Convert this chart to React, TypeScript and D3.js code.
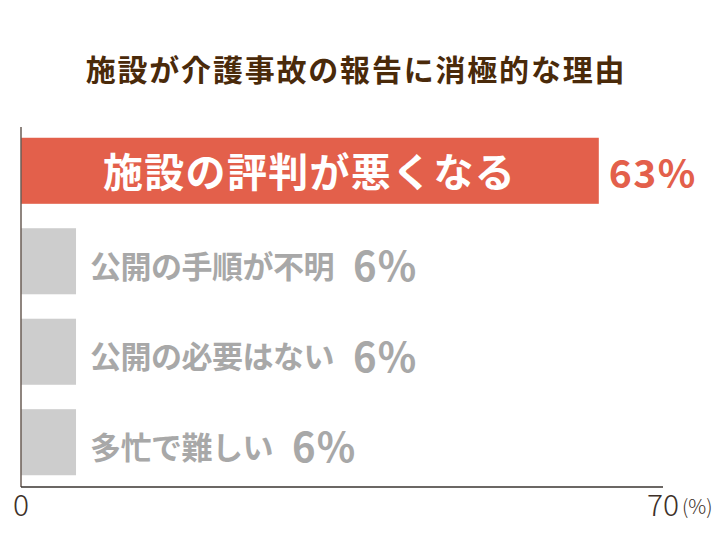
import React from "react";
import * as d3 from "d3";

const categories = ["施設の評判が悪くなる", "公開の手順が不明", "公開の必要はない", "多忙で難しい"];
const values = [63, 6, 6, 6];
const axisTicks = [0, 70];

const width = 726;
const height = 545;
const jp = "'Noto Sans CJK JP', 'Noto Sans', sans-serif";

const App: React.FC = () => {
  const x = d3.scaleLinear().domain([0, 70]).range([21, 663]);
  const y = d3
    .scaleBand<string>()
    .domain(categories)
    .range([126, 487])
    .paddingInner(0.27)
    .paddingOuter(0.13);

  return (
    <svg width={width} height={height} style={{ display: "block", position: "absolute", left: 0, top: 0 }}>
      <rect width={width} height={height} fill="#fff" />

      {/* title */}
      <text
        x={356}
        y={68}
        textAnchor="middle"
        dominantBaseline="central"
        fontFamily={jp}
        fontWeight={700}
        fontSize={30}
        letterSpacing={1.8}
        fill="#4a2a0a"
      >
        施設が介護事故の報告に消極的な理由
      </text>

      {/* bars */}
      {categories.map((c, i) => {
        const top = i === 0;
        const by = y(c)!;
        const bw = y.bandwidth();
        const cy = by + bw / 2;
        return (
          <g key={c}>
            <rect
              x={x(0)}
              y={by}
              width={x(values[i]) - x(0)}
              height={bw}
              fill={top ? "#e3604b" : "#cdcdcd"}
            />
            {top ? (
              <>
                <text
                  x={103}
                  y={cy - 1}
                  dominantBaseline="central"
                  fontFamily={jp}
                  fontWeight={700}
                  fontSize={40}
                  letterSpacing={1.3}
                  fill="#fff"
                >
                  {c}
                </text>
                <text
                  x={x(values[i]) + 10}
                  y={cy}
                  dominantBaseline="central"
                  fontFamily={jp}
                  fontWeight={700}
                  fontSize={39}
                  letterSpacing={1.5}
                  fill="#e3604b"
                >
                  {values[i]}%
                </text>
              </>
            ) : (
              <text
                x={x(values[i]) + 14}
                y={cy + 3}
                dominantBaseline="central"
                fontFamily={jp}
                fontWeight={700}
                fontSize={31}
                letterSpacing={-0.5}
                fill="#a8a8a8"
              >
                {c}
                <tspan dx={19} fontSize={40} letterSpacing={1}>
                  {values[i]}%
                </tspan>
              </text>
            )}
          </g>
        );
      })}

      {/* axes */}
      <line x1={x(0)} x2={x(0)} y1={127} y2={487} stroke="#6a5d55" strokeWidth={1.5} />
      <line x1={x(0)} x2={x(70)} y1={487} y2={487} stroke="#3a3430" strokeWidth={1.5} />
      {axisTicks.map((t) => (
        <text
          key={t}
          x={x(t)}
          y={516}
          textAnchor="middle"
          fontFamily={jp}
          fontWeight={300}
          fontSize={30}
          fill="#3d3028"
        >
          {t}
        </text>
      ))}
      <text x={x(70) + 19} y={514} fontFamily={jp} fontWeight={300} fontSize={20} fill="#3d3028">
        (%)
      </text>
    </svg>
  );
};

export default App;
